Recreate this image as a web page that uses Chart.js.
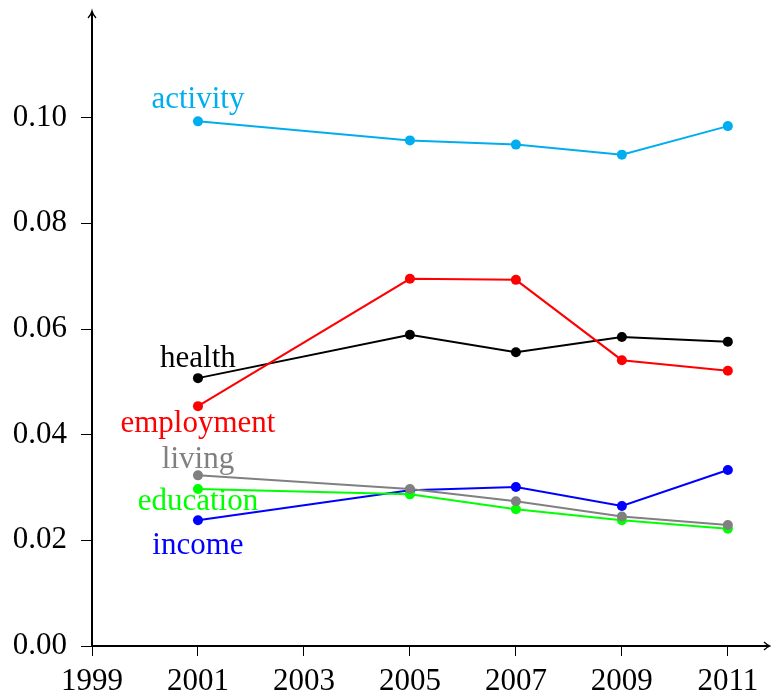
<!DOCTYPE html>
<html lang="en">

<head>
    <meta charset="UTF-8">
    <title>Indicators</title>
    <script src="https://cdn.jsdelivr.net/npm/chart.js"></script>
    <style>
        html, body { margin: 0; padding: 0; background: #fff; }
        .grafico { width: 771px; height: 697px; position: relative; }
    </style>
</head>

<body>
    <div class="grafico">
        <canvas id="myChart"></canvas>
    </div>
</body>

</html>
<script>

    // data
    const years = [2001, 2005, 2007, 2009, 2011];
    const xTicks = [1999, 2001, 2003, 2005, 2007, 2009, 2011];
    const yTicks = [0.00, 0.02, 0.04, 0.06, 0.08, 0.10];

    const activity = [0.0993, 0.0957, 0.0949, 0.0930, 0.0984];
    const employment = [0.0454, 0.0695, 0.0693, 0.0541, 0.0521];
    const health = [0.0507, 0.0589, 0.0556, 0.0585, 0.0576];
    const living = [0.0323, 0.0297, 0.0274, 0.0245, 0.0229];
    const education = [0.0297, 0.0287, 0.0259, 0.0238, 0.0222];
    const income = [0.0238, 0.0295, 0.0301, 0.0265, 0.0333];

    const fonte = 'Liberation Serif, DejaVu Serif, serif';

    // name, values, colour, label anchor (year, value at baseline)
    const series = [
        ['activity', activity, '#00aeef', 2001, 0.1019],
        ['employment', employment, '#ff0000', 2001, 0.0405],
        ['health', health, '#000000', 2001, 0.0529],
        ['living', living, '#808080', 2001, 0.0336],
        ['education', education, '#00ff00', 2001, 0.0257],
        ['income', income, '#0000ff', 2001, 0.0174],
    ];

    const datasets = series.map(function (s) {
        return {
            label: s[0],
            data: years.map(function (y, i) { return { x: y, y: s[1][i] }; }),
            borderColor: s[2],
            backgroundColor: s[2],
            borderWidth: 2,
            pointRadius: 5,
            pointHoverRadius: 5,
            pointBorderWidth: 0,
            tension: 0,
        };
    });

    // axis arrows and series names
    const extras = {
        id: 'extras',
        afterDraw(chart) {
            const c = chart.ctx;
            const xs = chart.scales.x;
            const ys = chart.scales.y;
            const x0 = xs.left;
            const y0 = ys.bottom;
            c.save();
            c.strokeStyle = '#000';
            c.fillStyle = '#000';
            c.lineWidth = 2;
            c.beginPath();
            c.moveTo(x0, y0);
            c.lineTo(chart.width - 2, y0);
            c.moveTo(x0, y0);
            c.lineTo(x0, 13);
            c.stroke();
            c.lineWidth = 1.3;
            c.beginPath();
            c.moveTo(chart.width - 7, y0 - 4);
            c.quadraticCurveTo(chart.width - 4, y0 - 1, chart.width - 1, y0);
            c.quadraticCurveTo(chart.width - 4, y0 + 1, chart.width - 7, y0 + 4);
            c.moveTo(x0 - 4, 18);
            c.quadraticCurveTo(x0 - 1, 15, x0, 11);
            c.quadraticCurveTo(x0 + 1, 15, x0 + 4, 18);
            c.stroke();

            c.font = '31px ' + fonte;
            c.textAlign = 'center';
            c.textBaseline = 'alphabetic';
            series.forEach(function (s) {
                c.fillStyle = s[2];
                c.fillText(s[0], xs.getPixelForValue(s[3]), ys.getPixelForValue(s[4]));
            });
            c.restore();
        }
    };

    const ctx = document.getElementById('myChart');

    new Chart(ctx, {
        type: 'line',
        data: { datasets: datasets },
        options: {
            responsive: true,
            maintainAspectRatio: false,
            animation: false,
            events: [],
            layout: { padding: { top: 12, right: 1, left: 0, bottom: 0 } },
            scales: {
                x: {
                    type: 'linear',
                    min: 1999,
                    max: 2011.72,
                    afterBuildTicks: function (s) { s.ticks = xTicks.map(function (v) { return { value: v }; }); },
                    afterFit: function (s) { s.height = 51; s.paddingLeft = 0; s.paddingRight = 0; },
                    border: { display: false },
                    grid: { display: true, drawOnChartArea: false, drawTicks: true, tickLength: 10, color: '#000', lineWidth: 1 },
                    ticks: {
                        color: '#000',
                        padding: 7,
                        maxRotation: 0,
                        autoSkip: false,
                        font: { family: fonte, size: 31 },
                        callback: function (v) { return String(v); }
                    }
                },
                y: {
                    min: 0,
                    max: 0.12,
                    afterBuildTicks: function (s) { s.ticks = yTicks.map(function (v) { return { value: v }; }); },
                    afterFit: function (s) { s.width = 92; s.paddingTop = 0; s.paddingBottom = 0; },
                    border: { display: false },
                    grid: { display: true, drawOnChartArea: false, drawTicks: true, tickLength: 11, color: '#000', lineWidth: 1 },
                    ticks: {
                        color: '#000',
                        padding: 14,
                        autoSkip: false,
                        font: { family: fonte, size: 31 },
                        callback: function (v) { return v.toFixed(2); }
                    }
                }
            },
            plugins: {
                legend: { display: false },
                tooltip: { enabled: false },
                title: { display: false }
            }
        },
        plugins: [extras]
    });
</script>
